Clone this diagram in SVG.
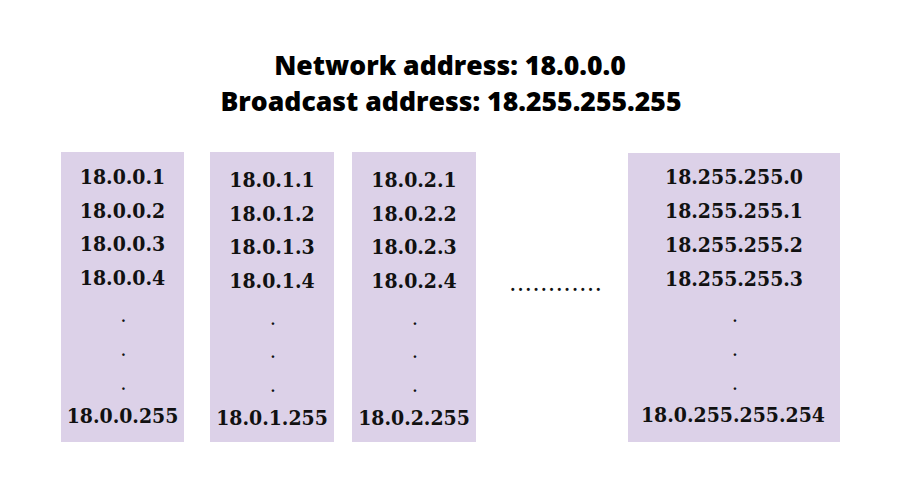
<svg xmlns="http://www.w3.org/2000/svg" width="900" height="500" viewBox="0 0 900 500">
<style>
.bg{fill:#ffffff}
.box{fill:#dcd1e8}
.title{font-family:"Open Sans","Liberation Sans",sans-serif;font-weight:800;font-size:26.6px;fill:#000;text-anchor:middle}
.addr{font-family:"DejaVu Serif Condensed","DejaVu Serif","Liberation Serif",serif;font-stretch:condensed;font-weight:700;font-size:21px;fill:#111;text-anchor:middle}
.dot{font-family:"DejaVu Serif","Liberation Serif",serif;font-weight:700;font-size:14px;fill:#111;text-anchor:middle}
</style>
<rect class="bg" x="0" y="0" width="900" height="500"/>
<g id="title">
<text class="title" x="450" y="75">Network address: 18.0.0.0</text>
<text class="title" x="451" y="111">Broadcast address: 18.255.255.255</text>
</g>
<g id="block-0">
<rect class="box" x="61" y="152" width="123" height="290"/>
<text class="addr" x="122.5" y="184">18.0.0.1</text>
<text class="addr" x="122.5" y="218">18.0.0.2</text>
<text class="addr" x="122.5" y="251">18.0.0.3</text>
<text class="addr" x="122.5" y="285">18.0.0.4</text>
<text class="dot" x="123.5" y="322">.</text>
<text class="dot" x="123.5" y="356">.</text>
<text class="dot" x="123.5" y="390">.</text>
<text class="addr" x="122.5" y="423">18.0.0.255</text>
</g>
<g id="block-1">
<rect class="box" x="210" y="152" width="124" height="290"/>
<text class="addr" x="272" y="187">18.0.1.1</text>
<text class="addr" x="272" y="221">18.0.1.2</text>
<text class="addr" x="272" y="254">18.0.1.3</text>
<text class="addr" x="272" y="288">18.0.1.4</text>
<text class="dot" x="273" y="325">.</text>
<text class="dot" x="273" y="358">.</text>
<text class="dot" x="273" y="392">.</text>
<text class="addr" x="272" y="425">18.0.1.255</text>
</g>
<g id="block-2">
<rect class="box" x="352" y="152" width="124" height="290"/>
<text class="addr" x="414" y="187">18.0.2.1</text>
<text class="addr" x="414" y="221">18.0.2.2</text>
<text class="addr" x="414" y="254">18.0.2.3</text>
<text class="addr" x="414" y="288">18.0.2.4</text>
<text class="dot" x="415" y="325">.</text>
<text class="dot" x="415" y="358">.</text>
<text class="dot" x="415" y="392">.</text>
<text class="addr" x="414" y="425">18.0.2.255</text>
</g>
<g id="ellipsis">
<text x="510" y="291" font-family="DejaVu Serif, serif" font-weight="700" font-size="16" fill="#111" textLength="91" lengthAdjust="spacing">............</text>
</g>
<g id="block-last">
<rect class="box" x="628" y="153" width="212" height="289"/>
<text class="addr" x="734" y="184">18.255.255.0</text>
<text class="addr" x="734" y="218">18.255.255.1</text>
<text class="addr" x="734" y="252">18.255.255.2</text>
<text class="addr" x="734" y="286">18.255.255.3</text>
<text class="dot" x="735" y="322">.</text>
<text class="dot" x="735" y="356">.</text>
<text class="dot" x="735" y="390">.</text>
<text class="addr" x="733" y="422">18.0.255.255.254</text>
</g>
<g id="connectors"></g>
</svg>
